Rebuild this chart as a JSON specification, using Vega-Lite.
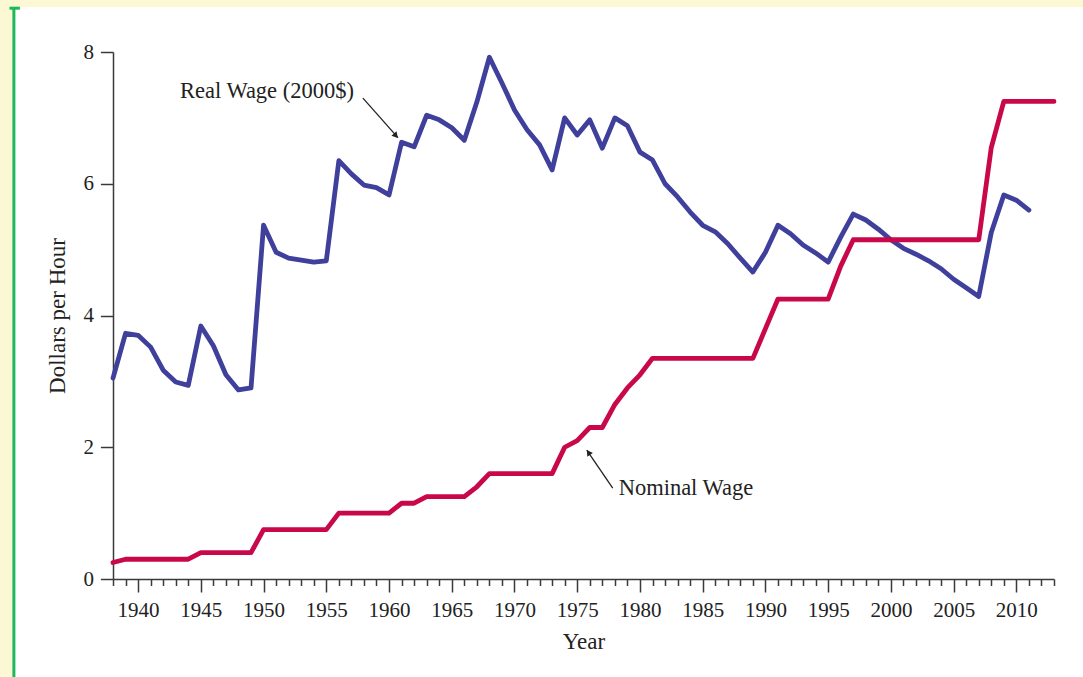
{
  "$schema": "https://vega.github.io/schema/vega-lite/v6.json",
  "width": 941,
  "height": 527,
  "autosize": {"type": "none"},
  "padding": {"left": 113, "top": 52, "right": 29, "bottom": 98},
  "background": "#ffffff",
  "config": {
    "font": "Liberation Serif",
    "view": {"stroke": null}
  },
  "datasets": {
    "wages": [
      {"year":1938,"series":"Real Wage","wage":3.05},{"year":1939,"series":"Real Wage","wage":3.73},{"year":1940,"series":"Real Wage","wage":3.70},{"year":1941,"series":"Real Wage","wage":3.52},{"year":1942,"series":"Real Wage","wage":3.17},{"year":1943,"series":"Real Wage","wage":2.99},{"year":1944,"series":"Real Wage","wage":2.94},{"year":1945,"series":"Real Wage","wage":3.84},{"year":1946,"series":"Real Wage","wage":3.54},{"year":1947,"series":"Real Wage","wage":3.10},{"year":1948,"series":"Real Wage","wage":2.87},{"year":1949,"series":"Real Wage","wage":2.90},
      {"year":1950,"series":"Real Wage","wage":5.37},{"year":1951,"series":"Real Wage","wage":4.96},{"year":1952,"series":"Real Wage","wage":4.87},{"year":1953,"series":"Real Wage","wage":4.84},{"year":1954,"series":"Real Wage","wage":4.81},{"year":1955,"series":"Real Wage","wage":4.83},{"year":1956,"series":"Real Wage","wage":6.35},{"year":1957,"series":"Real Wage","wage":6.15},{"year":1958,"series":"Real Wage","wage":5.98},{"year":1959,"series":"Real Wage","wage":5.94},
      {"year":1960,"series":"Real Wage","wage":5.83},{"year":1961,"series":"Real Wage","wage":6.63},{"year":1962,"series":"Real Wage","wage":6.56},{"year":1963,"series":"Real Wage","wage":7.04},{"year":1964,"series":"Real Wage","wage":6.97},{"year":1965,"series":"Real Wage","wage":6.85},{"year":1966,"series":"Real Wage","wage":6.66},{"year":1967,"series":"Real Wage","wage":7.24},{"year":1968,"series":"Real Wage","wage":7.92},{"year":1969,"series":"Real Wage","wage":7.53},
      {"year":1970,"series":"Real Wage","wage":7.12},{"year":1971,"series":"Real Wage","wage":6.82},{"year":1972,"series":"Real Wage","wage":6.59},{"year":1973,"series":"Real Wage","wage":6.21},{"year":1974,"series":"Real Wage","wage":7.00},{"year":1975,"series":"Real Wage","wage":6.74},{"year":1976,"series":"Real Wage","wage":6.97},{"year":1977,"series":"Real Wage","wage":6.54},{"year":1978,"series":"Real Wage","wage":7.00},{"year":1979,"series":"Real Wage","wage":6.88},
      {"year":1980,"series":"Real Wage","wage":6.48},{"year":1981,"series":"Real Wage","wage":6.36},{"year":1982,"series":"Real Wage","wage":6.00},{"year":1983,"series":"Real Wage","wage":5.80},{"year":1984,"series":"Real Wage","wage":5.57},{"year":1985,"series":"Real Wage","wage":5.37},{"year":1986,"series":"Real Wage","wage":5.27},{"year":1987,"series":"Real Wage","wage":5.09},{"year":1988,"series":"Real Wage","wage":4.87},{"year":1989,"series":"Real Wage","wage":4.66},
      {"year":1990,"series":"Real Wage","wage":4.96},{"year":1991,"series":"Real Wage","wage":5.37},{"year":1992,"series":"Real Wage","wage":5.24},{"year":1993,"series":"Real Wage","wage":5.07},{"year":1994,"series":"Real Wage","wage":4.95},{"year":1995,"series":"Real Wage","wage":4.81},{"year":1996,"series":"Real Wage","wage":5.19},{"year":1997,"series":"Real Wage","wage":5.54},{"year":1998,"series":"Real Wage","wage":5.45},{"year":1999,"series":"Real Wage","wage":5.31},
      {"year":2000,"series":"Real Wage","wage":5.15},{"year":2001,"series":"Real Wage","wage":5.02},{"year":2002,"series":"Real Wage","wage":4.93},{"year":2003,"series":"Real Wage","wage":4.83},{"year":2004,"series":"Real Wage","wage":4.71},{"year":2005,"series":"Real Wage","wage":4.55},{"year":2006,"series":"Real Wage","wage":4.42},{"year":2007,"series":"Real Wage","wage":4.29},{"year":2008,"series":"Real Wage","wage":5.26},{"year":2009,"series":"Real Wage","wage":5.83},{"year":2010,"series":"Real Wage","wage":5.75},{"year":2011,"series":"Real Wage","wage":5.60},
      {"year":1938,"series":"Nominal Wage","wage":0.25},{"year":1939,"series":"Nominal Wage","wage":0.30},{"year":1940,"series":"Nominal Wage","wage":0.30},{"year":1941,"series":"Nominal Wage","wage":0.30},{"year":1942,"series":"Nominal Wage","wage":0.30},{"year":1943,"series":"Nominal Wage","wage":0.30},{"year":1944,"series":"Nominal Wage","wage":0.30},{"year":1945,"series":"Nominal Wage","wage":0.40},{"year":1946,"series":"Nominal Wage","wage":0.40},{"year":1947,"series":"Nominal Wage","wage":0.40},{"year":1948,"series":"Nominal Wage","wage":0.40},{"year":1949,"series":"Nominal Wage","wage":0.40},
      {"year":1950,"series":"Nominal Wage","wage":0.75},{"year":1951,"series":"Nominal Wage","wage":0.75},{"year":1952,"series":"Nominal Wage","wage":0.75},{"year":1953,"series":"Nominal Wage","wage":0.75},{"year":1954,"series":"Nominal Wage","wage":0.75},{"year":1955,"series":"Nominal Wage","wage":0.75},{"year":1956,"series":"Nominal Wage","wage":1.00},{"year":1957,"series":"Nominal Wage","wage":1.00},{"year":1958,"series":"Nominal Wage","wage":1.00},{"year":1959,"series":"Nominal Wage","wage":1.00},
      {"year":1960,"series":"Nominal Wage","wage":1.00},{"year":1961,"series":"Nominal Wage","wage":1.15},{"year":1962,"series":"Nominal Wage","wage":1.15},{"year":1963,"series":"Nominal Wage","wage":1.25},{"year":1964,"series":"Nominal Wage","wage":1.25},{"year":1965,"series":"Nominal Wage","wage":1.25},{"year":1966,"series":"Nominal Wage","wage":1.25},{"year":1967,"series":"Nominal Wage","wage":1.40},{"year":1968,"series":"Nominal Wage","wage":1.60},{"year":1969,"series":"Nominal Wage","wage":1.60},
      {"year":1970,"series":"Nominal Wage","wage":1.60},{"year":1971,"series":"Nominal Wage","wage":1.60},{"year":1972,"series":"Nominal Wage","wage":1.60},{"year":1973,"series":"Nominal Wage","wage":1.60},{"year":1974,"series":"Nominal Wage","wage":2.00},{"year":1975,"series":"Nominal Wage","wage":2.10},{"year":1976,"series":"Nominal Wage","wage":2.30},{"year":1977,"series":"Nominal Wage","wage":2.30},{"year":1978,"series":"Nominal Wage","wage":2.65},{"year":1979,"series":"Nominal Wage","wage":2.90},
      {"year":1980,"series":"Nominal Wage","wage":3.10},{"year":1981,"series":"Nominal Wage","wage":3.35},{"year":1982,"series":"Nominal Wage","wage":3.35},{"year":1983,"series":"Nominal Wage","wage":3.35},{"year":1984,"series":"Nominal Wage","wage":3.35},{"year":1985,"series":"Nominal Wage","wage":3.35},{"year":1986,"series":"Nominal Wage","wage":3.35},{"year":1987,"series":"Nominal Wage","wage":3.35},{"year":1988,"series":"Nominal Wage","wage":3.35},{"year":1989,"series":"Nominal Wage","wage":3.35},
      {"year":1990,"series":"Nominal Wage","wage":3.80},{"year":1991,"series":"Nominal Wage","wage":4.25},{"year":1992,"series":"Nominal Wage","wage":4.25},{"year":1993,"series":"Nominal Wage","wage":4.25},{"year":1994,"series":"Nominal Wage","wage":4.25},{"year":1995,"series":"Nominal Wage","wage":4.25},{"year":1996,"series":"Nominal Wage","wage":4.75},{"year":1997,"series":"Nominal Wage","wage":5.15},{"year":1998,"series":"Nominal Wage","wage":5.15},{"year":1999,"series":"Nominal Wage","wage":5.15},
      {"year":2000,"series":"Nominal Wage","wage":5.15},{"year":2001,"series":"Nominal Wage","wage":5.15},{"year":2002,"series":"Nominal Wage","wage":5.15},{"year":2003,"series":"Nominal Wage","wage":5.15},{"year":2004,"series":"Nominal Wage","wage":5.15},{"year":2005,"series":"Nominal Wage","wage":5.15},{"year":2006,"series":"Nominal Wage","wage":5.15},{"year":2007,"series":"Nominal Wage","wage":5.15},{"year":2008,"series":"Nominal Wage","wage":6.55},{"year":2009,"series":"Nominal Wage","wage":7.25},
      {"year":2010,"series":"Nominal Wage","wage":7.25},{"year":2011,"series":"Nominal Wage","wage":7.25},{"year":2012,"series":"Nominal Wage","wage":7.25},{"year":2013,"series":"Nominal Wage","wage":7.25}
    ],
    "labels": [
      {"label":"Real Wage (2000$)","year":1943.34,"wage":7.30},
      {"label":"Nominal Wage","year":1978.30,"wage":1.275}
    ],
    "arrows": [
      {"name":"real","year":1957.92,"wage":7.30,"year2":1960.71,"wage2":6.70,"hx":1960.50,"hy":6.74,"angle":139},
      {"name":"nominal","year":1977.83,"wage":1.381,"year2":1975.76,"wage2":1.958,"hx":1975.94,"hy":1.908,"angle":326}
    ],
    "frame": [
      {"x1":1920,"x2":1929.97,"y1":-3,"y2":10},
      {"x1":1920,"x2":2030,"y1":8.683,"y2":10}
    ],
    "edge": [
      {"x":1930.10,"x2":1930.10,"y":8.67,"y2":-3},
      {"x":1929.75,"x2":1930.58,"y":8.665,"y2":8.665}
    ]
  },
  "layer": [
    {
      "data": {"name": "frame"},
      "mark": {"type": "rect", "color": "#fdf8d4", "clip": false},
      "encoding": {
        "x": {
          "field": "x1", "type": "quantitative",
          "scale": {"domain": [1938, 2013], "nice": false, "zero": false},
          "axis": {
            "title": "Year",
            "grid": false,
            "tickCount": 200,
            "values": [1938,1939,1940,1941,1942,1943,1944,1945,1946,1947,1948,1949,1950,1951,1952,1953,1954,1955,1956,1957,1958,1959,1960,1961,1962,1963,1964,1965,1966,1967,1968,1969,1970,1971,1972,1973,1974,1975,1976,1977,1978,1979,1980,1981,1982,1983,1984,1985,1986,1987,1988,1989,1990,1991,1992,1993,1994,1995,1996,1997,1998,1999,2000,2001,2002,2003,2004,2005,2006,2007,2008,2009,2010,2011,2012,2013],
            "format": "d",
            "labelExpr": "datum.value % 5 === 0 ? datum.label : ''",
            "tickSize": {"condition": {"test": "datum.value % 5 === 0", "value": 13}, "value": 6.5},
            "labelPadding": 7,
            "labelOverlap": false,
            "labelFlush": false,
            "labelFont": "Liberation Serif",
            "labelFontSize": 21,
            "labelColor": "#222222",
            "titleFont": "Liberation Serif",
            "titleFontSize": 23,
            "titleFontWeight": "normal",
            "titleColor": "#222222",
            "titlePadding": 10,
            "domainColor": "#3a3a3a",
            "domainWidth": 1.5,
            "tickColor": "#3a3a3a",
            "tickWidth": 1.5
          }
        },
        "x2": {"field": "x2"},
        "y": {
          "field": "y1", "type": "quantitative",
          "scale": {"domain": [0, 8], "nice": false},
          "axis": {
            "title": "Dollars per Hour",
            "grid": false,
            "values": [0, 2, 4, 6, 8],
            "format": "d",
            "tickSize": 12.6,
            "labelPadding": 7,
            "labelFont": "Liberation Serif",
            "labelFontSize": 21,
            "labelColor": "#222222",
            "titleFont": "Liberation Serif",
            "titleFontSize": 23,
            "titleFontWeight": "normal",
            "titleColor": "#222222",
            "titlePadding": 13,
            "domainColor": "#3a3a3a",
            "domainWidth": 1.5,
            "tickColor": "#3a3a3a",
            "tickWidth": 1.5
          }
        },
        "y2": {"field": "y2"}
      }
    },
    {
      "data": {"name": "edge"},
      "mark": {"type": "rule", "color": "#1cb85a", "strokeWidth": 3, "clip": false},
      "encoding": {
        "x": {"field": "x", "type": "quantitative"},
        "x2": {"field": "x2"},
        "y": {"field": "y", "type": "quantitative"},
        "y2": {"field": "y2"}
      }
    },
    {
      "data": {"name": "wages"},
      "mark": {"type": "line", "strokeWidth": 4.8, "strokeJoin": "round", "strokeCap": "round"},
      "encoding": {
        "x": {"field": "year", "type": "quantitative"},
        "y": {"field": "wage", "type": "quantitative"},
        "color": {
          "field": "series", "type": "nominal",
          "scale": {"domain": ["Real Wage", "Nominal Wage"], "range": ["#3f3f9c", "#c8084b"]},
          "legend": null
        }
      }
    },
    {
      "data": {"name": "arrows"},
      "mark": {"type": "rule", "color": "#222222", "strokeWidth": 1.3},
      "encoding": {
        "x": {"field": "year", "type": "quantitative"},
        "x2": {"field": "year2"},
        "y": {"field": "wage", "type": "quantitative"},
        "y2": {"field": "wage2"}
      }
    },
    {
      "data": {"name": "arrows"},
      "mark": {"type": "point", "shape": "triangle", "filled": true, "color": "#222222", "size": 45, "opacity": 1},
      "encoding": {
        "x": {"field": "hx", "type": "quantitative"},
        "y": {"field": "hy", "type": "quantitative"},
        "angle": {"field": "angle", "type": "quantitative", "scale": null}
      }
    },
    {
      "data": {"name": "labels"},
      "mark": {"type": "text", "align": "left", "baseline": "alphabetic", "fontSize": 22.5, "color": "#222222", "font": "Liberation Serif"},
      "encoding": {
        "x": {"field": "year", "type": "quantitative"},
        "y": {"field": "wage", "type": "quantitative"},
        "text": {"field": "label"}
      }
    }
  ]
}
